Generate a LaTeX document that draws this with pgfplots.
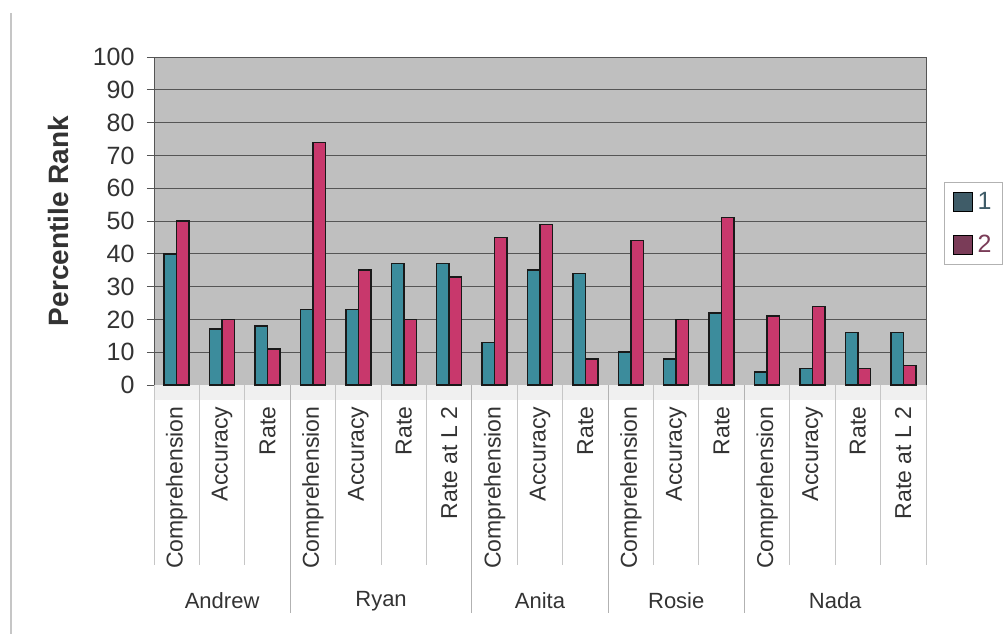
\documentclass[border=0pt]{standalone}
\usepackage{fontspec}
\setmainfont{Liberation Sans}
\usepackage{pgfplots}
\pgfplotsset{compat=1.18}
\definecolor{bgray}{HTML}{BFBFBF}
\definecolor{gridc}{HTML}{555555}
\definecolor{cblue}{HTML}{3C8C9C}
\definecolor{cred}{HTML}{C8386C}
\definecolor{legA}{HTML}{3F5C68}
\definecolor{legB}{HTML}{7A3C58}
\definecolor{txt}{HTML}{333333}
\begin{document}
\begin{tikzpicture}
\path[use as bounding box] (0pt,0pt) rectangle (1006pt,-634pt);
\draw[gray!45, line width=2pt] (11pt,-13pt) -- (11pt,-634pt);
\begin{axis}[
  at={(154pt,-385pt)}, anchor=south west,
  scale only axis, width=772pt, height=328pt,
  xmin=0, xmax=17, ymin=0, ymax=100,
  clip=false,
  ybar=0pt, bar width=12.5pt,
  axis background/.style={fill=bgray},
  axis line style={draw=gridc, line width=0.8pt},
  ymajorgrids, grid style={draw=gridc, line width=0.9pt},
  ytick={0,10,...,100},
  xtick={0.5,1.5,...,16.5},
  xticklabels={Comprehension,Accuracy,Rate,Comprehension,Accuracy,Rate,Rate at L 2,Comprehension,Accuracy,Rate,Comprehension,Accuracy,Rate,Comprehension,Accuracy,Rate,Rate at L 2},
  xtick style={draw=none},
  ytick style={draw=gridc, line width=0.8pt},
  tick pos=left,
  major tick length=7pt, tick align=outside,
  /pgf/number format/assume math mode=true,
  yticklabel style={font=\fontsize{25}{28}\selectfont, text=txt, xshift=-9pt},
  xticklabel style={font=\fontsize{23}{26}\selectfont, text=txt, rotate=90, anchor=east, xshift=-11pt},
  ylabel={\textbf{Percentile Rank}},
  ylabel style={font=\fontsize{28}{32}\selectfont, text=txt, at={(axis description cs:-0.124,0.5)}, anchor=center},
  legend image code/.code={\fill[#1] (0pt,-9.5pt) rectangle (19pt,9.5pt);},
  legend style={at={(axis description cs:1.0233,0.619)}, anchor=north west,
    draw=gray!60, fill=white, font=\fontsize{25}{28}\selectfont,
    inner xsep=9pt, inner ysep=8pt, row sep=20pt, cells={anchor=west}},
]
\fill[gray!12] (axis cs:0,0) rectangle ([yshift=-15pt]axis cs:17,0);
\pgfplotsinvokeforeach{0,1,2,4,5,6,8,9,11,12,14,15,16,17}{
  \draw[gray!45, line width=1pt] (axis cs:#1,0) -- ([yshift=-180pt]axis cs:#1,0);
}
\pgfplotsinvokeforeach{3,7,10,13}{
  \draw[gray!60, line width=1pt] (axis cs:#1,0) -- ([yshift=-228pt]axis cs:#1,0);
}
\addplot[bar shift=-6.25pt, fill=cblue, draw=black!90, line width=1.5pt, forget plot] coordinates {
(0.5,40) (1.5,17) (2.5,18) (3.5,23) (4.5,23) (5.5,37) (6.5,37) (7.5,13) (8.5,35)
(9.5,34) (10.5,10) (11.5,8) (12.5,22) (13.5,4) (14.5,5) (15.5,16) (16.5,16)};
\addplot[bar shift=6.25pt, fill=cred, draw=black!90, line width=1.5pt, forget plot] coordinates {
(0.5,50) (1.5,20) (2.5,11) (3.5,74) (4.5,35) (5.5,20) (6.5,33) (7.5,45) (8.5,49)
(9.5,8) (10.5,44) (11.5,20) (12.5,51) (13.5,21) (14.5,24) (15.5,5) (16.5,6)};
\addlegendimage{fill=legA}
\addlegendentry{\hspace{3pt}\textcolor{legA}{1}}
\addlegendimage{fill=legB}
\addlegendentry{\hspace{3pt}\textcolor{legB}{2}}
\node[font=\fontsize{22}{26}\selectfont, text=txt] at ([yshift=-216pt]axis cs:1.5,0) {Andrew};
\node[font=\fontsize{22}{26}\selectfont, text=txt] at ([yshift=-216pt]axis cs:5,0) {Ryan};
\node[font=\fontsize{22}{26}\selectfont, text=txt] at ([yshift=-216pt]axis cs:8.5,0) {Anita};
\node[font=\fontsize{22}{26}\selectfont, text=txt] at ([yshift=-216pt]axis cs:11.5,0) {Rosie};
\node[font=\fontsize{22}{26}\selectfont, text=txt] at ([yshift=-216pt]axis cs:15,0) {Nada};
\end{axis}
\end{tikzpicture}
\end{document}
